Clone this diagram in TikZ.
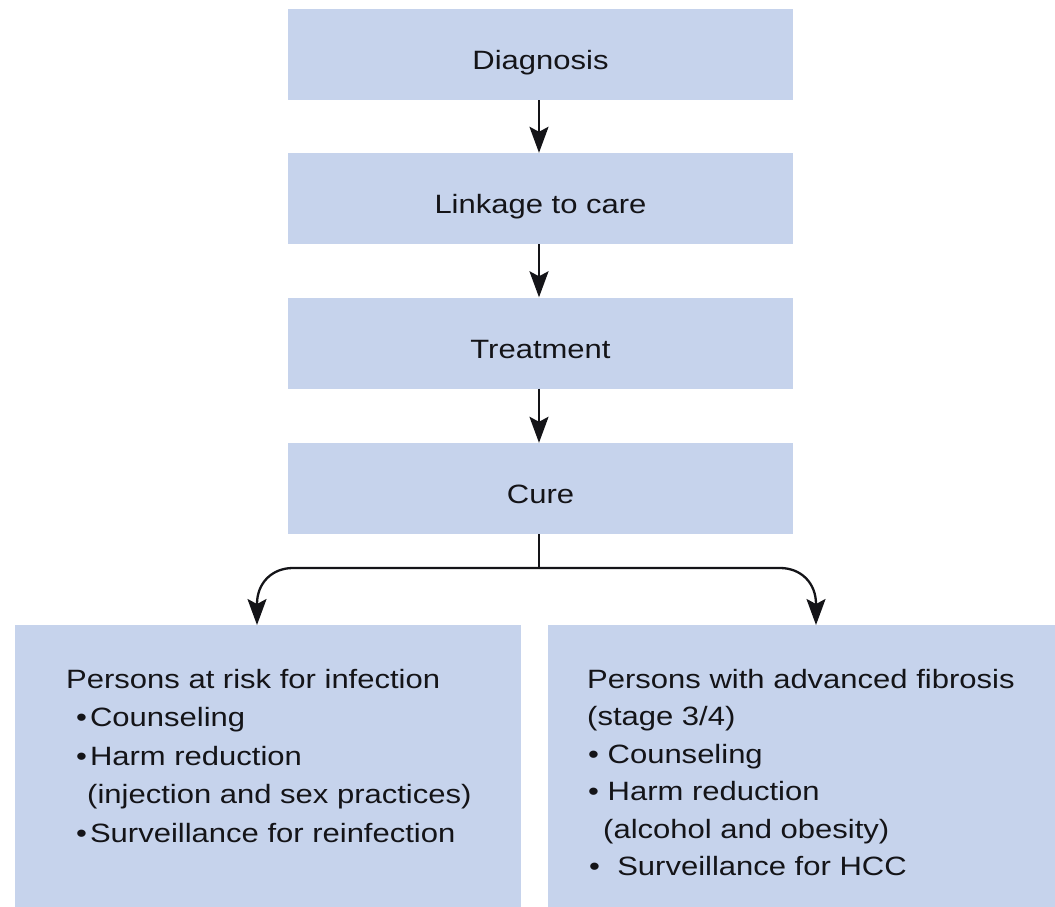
\documentclass[tikz,border=0pt]{standalone}
\usepackage{fontspec}
\setmainfont{Liberation Sans}[FakeStretch=1.17]
\usetikzlibrary{arrows.meta}
\definecolor{boxblue}{RGB}{198,211,236}
\definecolor{inkc}{RGB}{20,20,24}
\newcommand{\toplabel}[1]{\raisebox{-15pt}[0pt][0pt]{#1}}
\begin{document}
\begin{tikzpicture}[x=1pt,y=-1pt,
  topbox/.style={fill=boxblue, minimum width=505pt, minimum height=91pt, inner sep=0pt,
    text=inkc, font=\fontsize{26.5}{30}\selectfont},
  botbox/.style={fill=boxblue},
  bottext/.style={anchor=north west, inner sep=0pt, align=left, text=inkc},
  conn/.style={line width=2.3pt, draw=inkc},
  arr/.style={conn, -{Stealth[length=26pt,width=19pt,inset=5pt]}}]
\useasboundingbox (0,0) rectangle (1055,907);

\node[topbox] (diag)  at (540.5,54.5)  {\toplabel{Diagnosis}};
\node[topbox] (link)  at (540.5,198.5) {\toplabel{Linkage to care}};
\node[topbox] (treat) at (540.5,343)   {\toplabel{Treatment}};
\node[topbox] (cure)  at (540.5,488.5) {\toplabel{Cure}};

\path[botbox] (15,625) rectangle (521,907);
\path[botbox] (548,625) rectangle (1055,907);
\coordinate (lboxtop) at (268,625);
\coordinate (rboxtop) at (801,625);

\node[bottext, font=\fontsize{26.5}{38.5}\selectfont] (risk) at (66,668)
 {\rule{0pt}{20pt}Persons at risk for infection\\
  \hspace*{10pt}•\hspace{3pt}Counseling\\
  \hspace*{10pt}•\hspace{3pt}Harm reduction\\
  \hspace*{21pt}(injection and sex practices)\\
  \hspace*{10pt}•\hspace{3pt}Surveillance for reinfection};

\node[bottext, font=\fontsize{26.5}{37.5}\selectfont] (fib) at (587,668)
 {\rule{0pt}{20pt}Persons with advanced fibrosis\\
  (stage 3/4)\\
  \hspace*{1pt}• Counseling\\
  \hspace*{1pt}• Harm reduction\\
  \hspace*{16pt}(alcohol and obesity)\\
  \hspace*{2pt}•~~Surveillance for HCC};

\draw[arr] (diag.south -| 539,0) -- (link.north -| 539,0);
\draw[arr] (link.south -| 539,0) -- (treat.north -| 539,0);
\draw[arr] (treat.south -| 539,0) -- (cure.north -| 539,0);

\coordinate (split) at (539,568);
\draw[conn] (cure.south -| split) -- (split);
\draw[arr] (split) -- (293,568) .. controls (272,568) and (257,583) .. (257,604) -- (lboxtop -| 257,0);
\draw[arr] (split) -- (780,568) .. controls (801,568) and (816,583) .. (816,604) -- (rboxtop -| 816,0);
\end{tikzpicture}
\end{document}
